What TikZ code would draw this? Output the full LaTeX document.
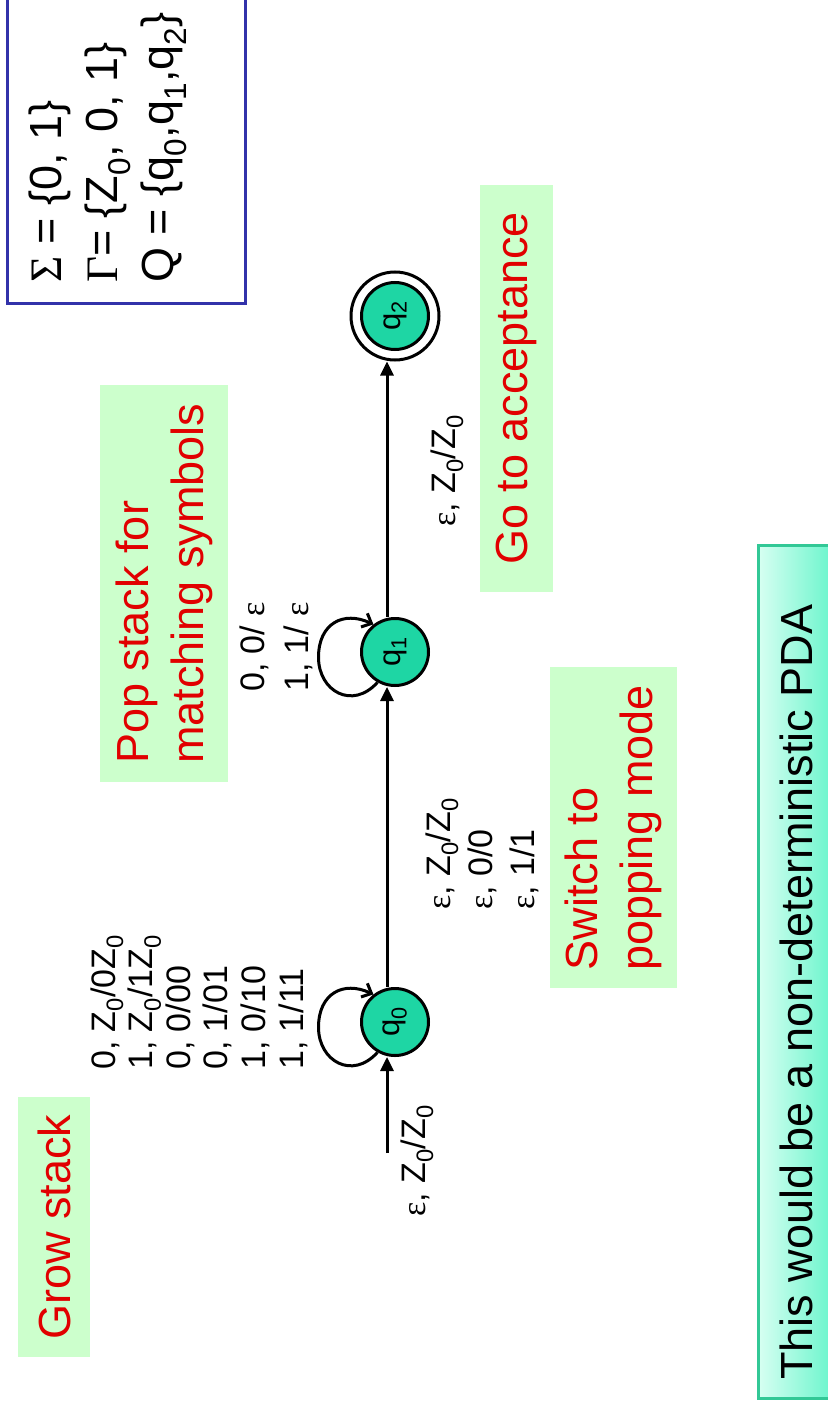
\documentclass[tikz,border=0pt]{standalone}
\usepackage{fontspec}
\setmainfont{Liberation Sans}
\newfontfamily\grk{Liberation Serif}
\usepackage{graphicx}
\usetikzlibrary{arrows.meta}

\definecolor{stfill}{RGB}{30,214,164}
\definecolor{tagfill}{RGB}{204,255,204}
\definecolor{tagred}{RGB}{225,0,0}
\definecolor{sigblue}{RGB}{50,50,170}
\definecolor{noteedge}{RGB}{50,200,150}
\definecolor{notelight}{RGB}{215,255,242}
\definecolor{notedark}{RGB}{110,245,205}

\newcommand\eps{{\grk ε}}
\newcommand\lo[1]{\textsubscript{#1}}
\newcommand\bigtxt{\fontsize{45}{55}\selectfont}

\begin{document}
\begin{tikzpicture}[x=1pt,y=-1pt,
  pdastate/.style={circle, draw, line width=3pt, fill=stfill, minimum size=67pt,
    inner sep=0pt, font=\fontsize{31}{31}\selectfont},
  ring/.style={circle, draw, line width=3pt, minimum size=88pt, inner sep=0pt},
  edge/.style={line width=3pt, -{Triangle[length=14pt,width=13pt]}},
  loopedge/.style={line width=3pt, line join=round,
    -{Straight Barb[length=8pt,width=15pt]}},
  tag/.style={rotate=90, fill=tagfill, inner sep=0pt, text=tagred,
    font=\bigtxt, align=left},
  lbl/.style={rotate=90, inner sep=0pt, anchor=west, align=left},
]
% canvas
\fill[white] (0,0) rectangle (827,1407);
\useasboundingbox (0,0) rectangle (827,1407);

% alphabet box
\node[draw=sigblue, line width=3pt, minimum width=238pt, minimum height=320pt,
  inner sep=0pt] (sigbox) at (126,143) {};
\node[lbl, font=\fontsize{45}{56}\selectfont] (sigtext) at (108,283)
  {{\grk Σ} = \{0, 1\}\\{\grk Γ}= \{Z\lo0, 0, 1\}\\Q = \{q\lo0,q\lo1,q\lo2\}};

% green comment tags
\node[tag, minimum width=260pt, minimum height=72pt] (tgrow) at (54,1227) {Grow stack};
\node[tag, minimum width=397pt, minimum height=128pt] (tpop) at (164,583.5)
  {Pop stack for\\matching symbols};
\node[tag, minimum width=321pt, minimum height=127pt] (tswitch) at (613.5,827.5)
  {Switch to\\popping mode};
\node[tag, minimum width=407pt, minimum height=73pt] (taccept) at (516.5,388.5)
  {Go to acceptance};

% states
\node[pdastate] (q0) at (395,1022) {\rotatebox{90}{q\lo0}};
\node[pdastate] (q1) at (395,652) {\rotatebox{90}{q\lo1}};
\node[pdastate] (q2) at (395,316) {\rotatebox{90}{q\lo2}};
\node[ring] (q2ring) at (q2) {};

% transitions
\coordinate (init) at (387,1153);
\draw[edge] (init) -- ([xshift=-8pt]q0.south);
\draw[edge] ([xshift=-8pt]q0.north) -- ([xshift=-8pt]q1.south);
\draw[edge] ([xshift=-8pt]q1.north) -- ([xshift=-8pt]q2ring.south);

\draw[loopedge] (q0.240) .. controls +(-25,28) and +(0,34) .. ++(-59,-25)
  .. controls +(0,-34) and +(-30,-14) .. (q0.128);
\draw[loopedge] (q1.240) .. controls +(-25,28) and +(0,34) .. ++(-59,-25)
  .. controls +(0,-34) and +(-30,-14) .. (q1.128);

% transition labels
\node[lbl, font=\fontsize{34}{38}\selectfont] (linit) at (417,1217) {\eps, Z\lo0/Z\lo0};
\node[lbl, font=\fontsize{34}{37.6}\selectfont] (lq0) at (199,1070)
  {0, Z\lo0/0Z\lo0\\1, Z\lo0/1Z\lo0\\0, 0/00\\0, 1/01\\1, 0/10\\1, 1/11};
\node[lbl, font=\fontsize{34}{44}\selectfont] (lq1) at (276,692)
  {0, 0/ \eps\\1, 1/ \eps};
\node[lbl, font=\fontsize{34}{42}\selectfont] (lq01) at (482,910)
  {\eps, Z\lo0/Z\lo0\\\eps, 0/0\\\eps, 1/1};
\node[lbl, font=\fontsize{34}{38}\selectfont] (lq12) at (447,527) {\eps, Z\lo0/Z\lo0};

% closing remark
\node[draw=noteedge, line width=3pt, left color=notelight, right color=notedark,
  minimum width=72pt, minimum height=853pt, inner sep=0pt] (note) at (794,971.5) {};
\node[rotate=90, anchor=base west, inner sep=0pt, font=\bigtxt] (notetext) at (812,1380)
  {This would be a non-deterministic PDA};
\end{tikzpicture}
\end{document}
